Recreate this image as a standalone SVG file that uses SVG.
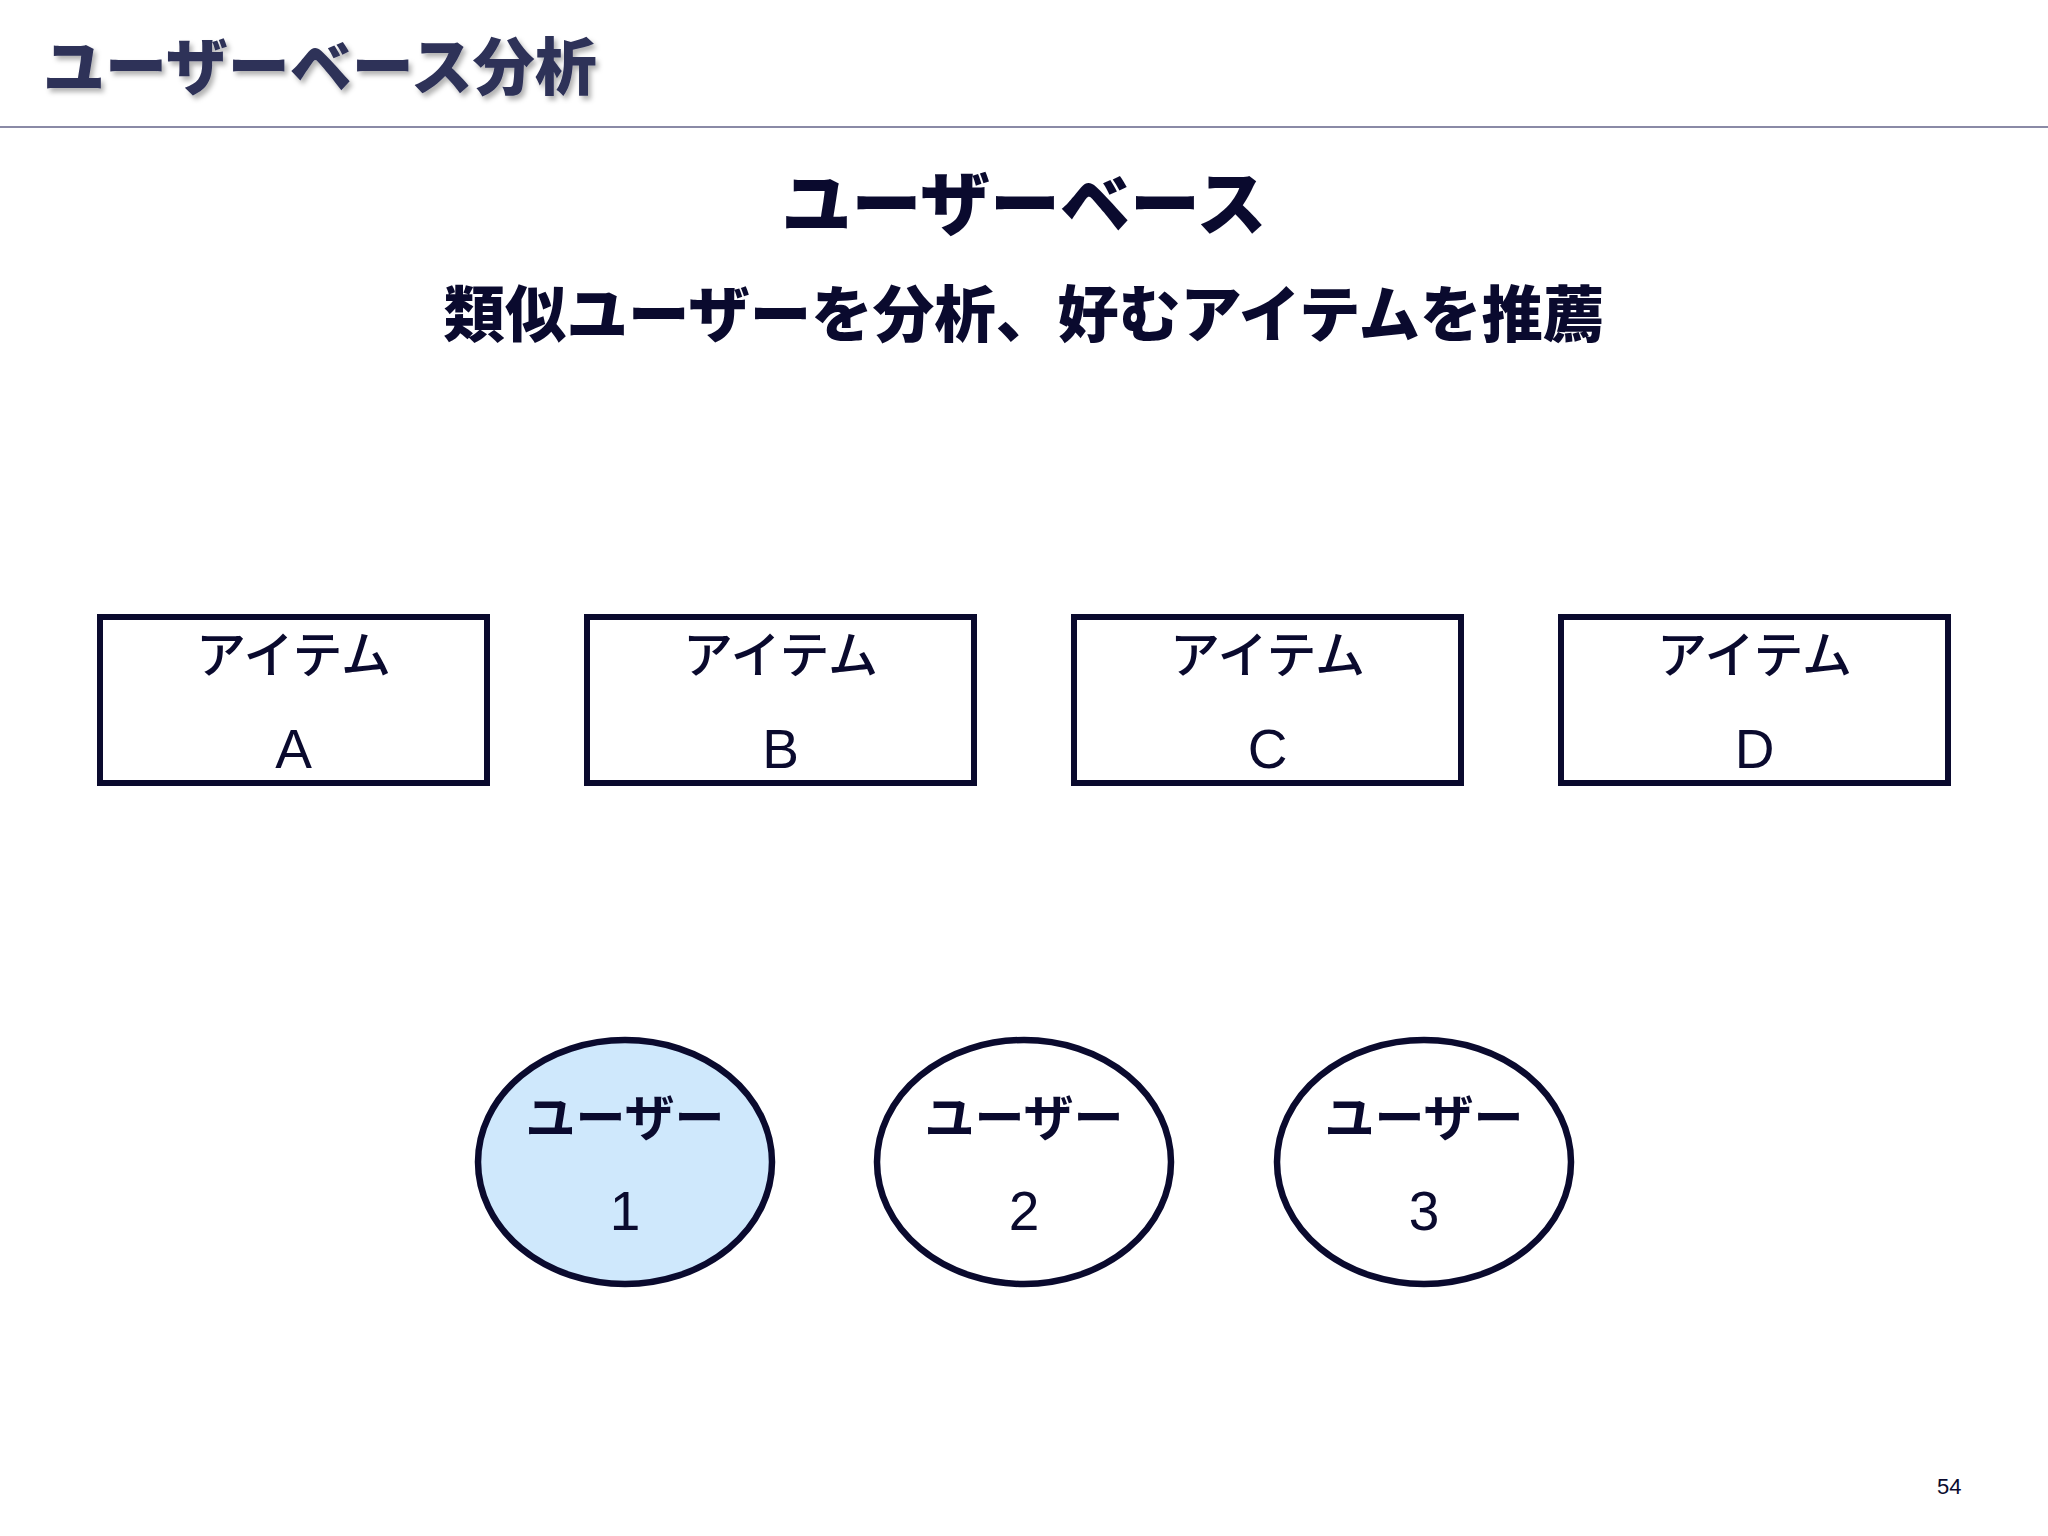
<svg xmlns="http://www.w3.org/2000/svg" width="2048" height="1536" viewBox="0 0 2048 1536">
<defs>
<filter id="sh" x="-5%" y="-20%" width="110%" height="150%">
<feDropShadow dx="3" dy="4" stdDeviation="2.5" flood-color="#000000" flood-opacity="0.3"/>
</filter>
<style>
.jp{font-family:"Noto Sans CJK JP","Noto Sans CJK SC",sans-serif}
.lat{font-family:"Liberation Sans",Arial,sans-serif}
.box{fill:#ffffff;stroke:#0a0a2e;stroke-width:6}
.ell{fill:#ffffff;stroke:#0a0a2e;stroke-width:6.5}
.lbl{font-size:50px;fill:#0a0a2e;text-anchor:middle}
.num{font-size:55px;fill:#0a0a2e;text-anchor:middle}
</style>
</defs>
<rect width="2048" height="1536" fill="#ffffff"/>
<g id="header">
<text class="jp" x="43" y="90" font-size="62" font-weight="900" fill="#2e3258" filter="url(#sh)">ユーザーベース分析</text>
<line x1="0" y1="127" x2="2048" y2="127" stroke="#8a8aa6" stroke-width="2"/>
</g>
<g id="headings">
<text class="jp" x="1024" y="230" font-size="70" font-weight="900" fill="#0a0a2e" text-anchor="middle">ユーザーベース</text>
<text class="jp" x="1024" y="337" font-size="61.5" font-weight="900" fill="#0a0a2e" text-anchor="middle">類似ユーザーを分析、好むアイテムを推薦</text>
</g>
<g id="item-a">
<rect class="box" x="100" y="617" width="387" height="166"/>
<text class="jp lbl" x="293.5" y="673" font-weight="500">アイテム</text>
<text class="lat num" x="293.5" y="768">A</text>
</g>
<g id="item-b">
<rect class="box" x="587" y="617" width="387" height="166"/>
<text class="jp lbl" x="780.5" y="673" font-weight="500">アイテム</text>
<text class="lat num" x="780.5" y="768">B</text>
</g>
<g id="item-c">
<rect class="box" x="1074" y="617" width="387" height="166"/>
<text class="jp lbl" x="1267.5" y="673" font-weight="500">アイテム</text>
<text class="lat num" x="1267.5" y="768">C</text>
</g>
<g id="item-d">
<rect class="box" x="1561" y="617" width="387" height="166"/>
<text class="jp lbl" x="1754.5" y="673" font-weight="500">アイテム</text>
<text class="lat num" x="1754.5" y="768">D</text>
</g>
<g id="user-1">
<ellipse class="ell" cx="625" cy="1162" rx="147" ry="122" style="fill:#cfe8fc"/>
<text class="jp lbl" x="625" y="1136" font-weight="700">ユーザー</text>
<text class="lat num" x="625" y="1230">1</text>
</g>
<g id="user-2">
<ellipse class="ell" cx="1024" cy="1162" rx="147" ry="122"/>
<text class="jp lbl" x="1024" y="1136" font-weight="700">ユーザー</text>
<text class="lat num" x="1024" y="1230">2</text>
</g>
<g id="user-3">
<ellipse class="ell" cx="1424" cy="1162" rx="147" ry="122"/>
<text class="jp lbl" x="1424" y="1136" font-weight="700">ユーザー</text>
<text class="lat num" x="1424" y="1230">3</text>
</g>
<g id="connectors"></g>
<text class="lat" x="1937" y="1494" font-size="22" fill="#0a0a2e">54</text>
</svg>
